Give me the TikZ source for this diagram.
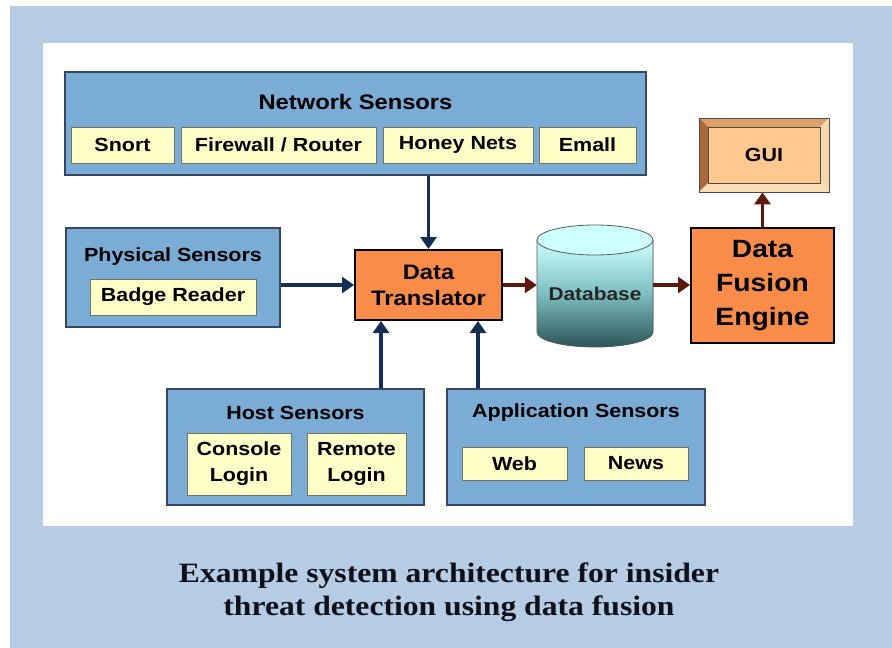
\documentclass[tikz,border=0pt]{standalone}
\usepackage{fontspec}
\usetikzlibrary{arrows.meta}
% Arial-metric sans for the block labels, Times-metric serif for the caption
\newfontfamily\lblfont{Liberation Sans}[FakeStretch=1.13]
\newfontfamily\capfont{Liberation Serif}[FakeStretch=1.13]

\definecolor{framebg}{RGB}{181,204,228}
\definecolor{groupfill}{RGB}{122,172,213}
\definecolor{groupline}{RGB}{52,72,98}
\definecolor{itemfill}{RGB}{255,255,200}
\definecolor{itemline}{RGB}{115,115,95}
\definecolor{procfill}{RGB}{250,140,74}
\definecolor{flowblue}{RGB}{22,46,84}
\definecolor{flowbrown}{RGB}{92,24,10}
\definecolor{guiface}{RGB}{255,200,142}
\definecolor{guitop}{RGB}{222,160,105}
\definecolor{guileft}{RGB}{170,105,58}
\definecolor{guiright}{RGB}{250,215,172}
\definecolor{guibottom}{RGB}{252,220,180}
\definecolor{dbtop}{RGB}{205,255,255}
\definecolor{dbmid}{RGB}{125,190,192}
\definecolor{dbbot}{RGB}{45,85,88}
\definecolor{captext}{RGB}{14,16,26}

\tikzset{
  group/.style={draw=groupline, line width=1.5pt, fill=groupfill, inner sep=0pt},
  grouptitle/.style={font=\lblfont\bfseries\fontsize{19}{24}\selectfont, inner sep=0pt},
  item/.style={draw=itemline, line width=1pt, fill=itemfill, inner sep=0pt,
    align=center, font=\lblfont\bfseries\fontsize{19}{26}\selectfont},
  proc/.style={draw=black, line width=2pt, fill=procfill, inner sep=0pt, align=center},
  blueflow/.style={draw=flowblue, line width=3.6pt, -{Triangle[length=12pt,width=16pt]}},
  brownflow/.style={draw=flowbrown, line width=3.6pt, -{Triangle[length=12pt,width=16pt]}},
}

\begin{document}
\begin{tikzpicture}[x=1pt, y=-1pt]
\useasboundingbox (0,0) rectangle (892,648);

% frame and white panel
\fill[framebg] (10,6) rectangle (892,648);
\fill[white] (43,43) rectangle (853,526);

% Network sensors
\node[group, minimum width=581pt, minimum height=103pt] (net) at (355.5,123.5) {};
\node[grouptitle, font=\lblfont\bfseries\fontsize{21}{24}\selectfont] (nettitle) at (355.5,102) {Network Sensors};
\node[item, minimum width=103pt, minimum height=36pt] (snort) at (122.5,145) {Snort};
\node[item, minimum width=195pt, minimum height=36pt] (fw) at (278.5,145) {Firewall / Router};
\node[item, minimum width=150pt, minimum height=36pt] (honey) at (458,145) {Honey Nets};
\node[item, minimum width=97pt, minimum height=36pt] (email) at (587.5,145) {Emall};

% Physical sensors
\node[group, minimum width=214pt, minimum height=99pt] (phys) at (173,277.5) {};
\node[grouptitle] (phystitle) at (173,257) {Physical Sensors};
\node[item, minimum width=166pt, minimum height=36pt] (badge) at (173,297) {Badge Reader};

% Host sensors
\node[group, minimum width=257pt, minimum height=116pt] (host) at (295.5,447) {};
\node[grouptitle] (hosttitle) at (295.5,413) {Host Sensors};
\node[item, minimum width=104pt, minimum height=62pt] (console) at (239,464) {Console\\Login};
\node[item, minimum width=99pt, minimum height=62pt] (remote) at (356.5,464) {Remote\\Login};

% Application sensors
\node[group, minimum width=258pt, minimum height=116pt] (app) at (576,447) {};
\node[grouptitle] (apptitle) at (576,413) {Application Sensors};
\node[item, minimum width=105pt, minimum height=33pt] (web) at (514.5,463.5) {Web};
\node[item, minimum width=104pt, minimum height=33pt] (news) at (636,463.5) {News};

% Data translator
\node[proc, minimum width=147pt, minimum height=70pt,
      font=\lblfont\bfseries\fontsize{21}{26}\selectfont] (dt) at (428.5,285) {Data\\Translator};

% Database cylinder
\fill[top color=dbtop, bottom color=dbbot, middle color=dbmid, draw=gray!70!black, line width=0.8pt]
  (537,240) -- (537,332) arc[start angle=180, end angle=0, x radius=58, y radius=15]
  -- (653,240) -- cycle;
\draw[fill=dbtop, draw=gray!70!black, line width=0.8pt] (595,240) ellipse [x radius=58, y radius=15];
\node[minimum width=116pt, minimum height=122pt, inner sep=0pt] (db) at (595,286) {};
\node[font=\lblfont\bfseries\fontsize{18.5}{24}\selectfont, text=black!85, inner sep=0pt] (dblabel) at (595,294) {Database};

% Data fusion engine
\node[proc, minimum width=143pt, minimum height=115pt,
      font=\lblfont\bfseries\fontsize{25}{34}\selectfont] (dfe) at (762.5,285.5) {Data\\Fusion\\Engine};

% GUI bevelled button
\fill[guitop] (699,118) -- (829,118) -- (820,127) -- (708,127) -- cycle;
\fill[guileft] (699,118) -- (708,127) -- (708,183) -- (699,192) -- cycle;
\fill[guiright] (829,118) -- (829,192) -- (820,183) -- (820,127) -- cycle;
\fill[guibottom] (699,192) -- (829,192) -- (820,183) -- (708,183) -- cycle;
\node[draw=gray!60!black, line width=0.8pt, minimum width=130pt, minimum height=74pt, inner sep=0pt] (gui) at (764,155) {};
\fill[guiface] (708,127) rectangle (820,183);
\draw[gray!60!black, line width=0.5pt] (708,127) rectangle (820,183);
\node[font=\lblfont\bfseries\fontsize{19}{24}\selectfont, inner sep=0pt] (guilabel) at (764,155) {GUI};

% connectors into the translator
\coordinate (dtinhost) at ([xshift=27pt]dt.south west);
\coordinate (dtinapp) at ([xshift=-25pt]dt.south east);
\draw[blueflow] (net.south -| dt.north) -- (dt.north);
\draw[blueflow] (phys.east |- dt.west) -- (dt.west);
\draw[blueflow] (dtinhost |- host.north) -- (dtinhost);
\draw[blueflow] (dtinapp |- app.north) -- (dtinapp);

% processing chain
\draw[brownflow] (dt.east) -- (db.west |- dt.east);
\draw[brownflow] (db.east |- dt.east) -- (dfe.west |- dt.east);
\draw[brownflow] (dfe.north) -- (gui.south -| dfe.north);

% caption
\node[font=\capfont\bfseries\fontsize{28}{33}\selectfont, text=captext, align=center, inner sep=0pt]
  (caption) at (449,592) {Example system architecture for insider\\threat detection using data fusion};
\end{tikzpicture}
\end{document}
